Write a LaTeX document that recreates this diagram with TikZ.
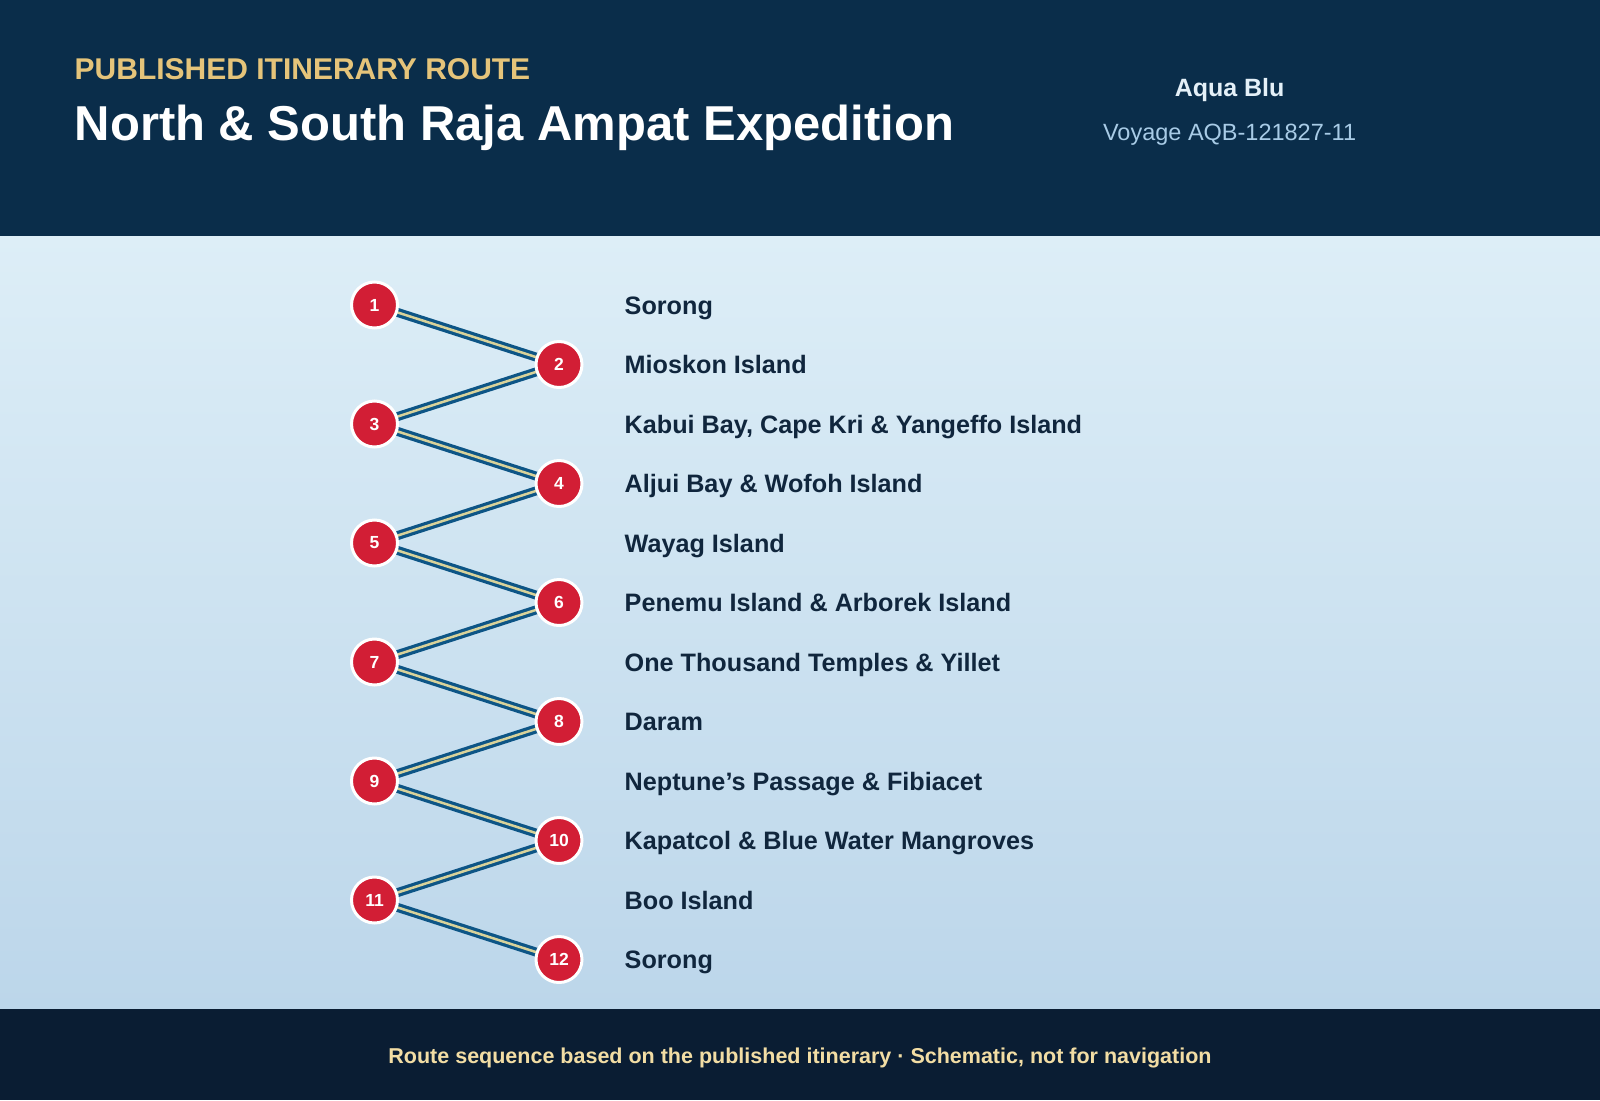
\documentclass[tikz,border=0pt]{standalone}
\usepackage{fontspec}
\setmainfont{Liberation Sans}
\usetikzlibrary{positioning}
\definecolor{hdrnavy}{HTML}{0A2D4A}
\definecolor{ftrnavy}{HTML}{0A1D33}
\definecolor{seatop}{HTML}{DDEEF7}
\definecolor{seabottom}{HTML}{BCD6EA}
\definecolor{kickergold}{HTML}{E5C47A}
\definecolor{shiplight}{HTML}{E4F0F8}
\definecolor{voyageblue}{HTML}{A8CBE6}
\definecolor{notesand}{HTML}{F2DDA4}
\definecolor{labelnavy}{HTML}{10263D}
\definecolor{stopred}{HTML}{D21E35}
\definecolor{routeblue}{HTML}{0D5586}
\definecolor{routesand}{HTML}{D8D29A}

\begin{document}
\begin{tikzpicture}[x=1pt, y=-1pt,
  stop/.style={circle, draw=white, line width=3pt, fill=stopred,
               minimum size=46pt, inner sep=0pt, text=white,
               font=\bfseries\fontsize{17.5}{20}\selectfont},
  place/.style={anchor=base west, inner sep=0pt, text=labelnavy,
                font=\bfseries\fontsize{25.2}{30}\selectfont},
  head/.style={inner sep=0pt},
  leg/.style={line width=9pt, routeblue},
  legcore/.style={line width=2.5pt, routesand}]
\useasboundingbox (0,0) rectangle (1600,1100);
% --- bands ---
\fill[hdrnavy] (0,0) rectangle (1600,236);
\shade[top color=seatop, bottom color=seabottom] (0,236) rectangle (1600,1009);
\fill[ftrnavy] (0,1009) rectangle (1600,1100);
% --- header ---
\node[head, anchor=base west, text=kickergold,
      font=\bfseries\fontsize{30}{34}\selectfont] (kicker) at (74.5,79)
  {PUBLISHED ITINERARY ROUTE};
\node[head, anchor=base west, text=white,
      font=\bfseries\fontsize{49}{56}\selectfont] (title) at (74.5,140)
  {North \& South Raja Ampat Expedition};
\node[head, anchor=base, text=shiplight,
      font=\bfseries\fontsize{25}{28}\selectfont] (ship) at (1229.6,96)
  {Aqua Blu};
\node[head, anchor=base, text=voyageblue,
      font=\fontsize{23.5}{28}\selectfont] (voyage) at (1229.6,140)
  {Voyage AQB-121827-11};
% --- route points ---
\foreach \i [evaluate=\i as \y using 305+(\i-1)*59.5,
             evaluate=\i as \x using {mod(\i,2)==1 ? 374.5 : 559}] in {1,...,12}
  \coordinate (p\i) at (\x,\y);
\foreach \i [evaluate=\i as \j using int(\i+1)] in {1,...,11} {
  \draw[leg] (p\i) -- (p\j);
  \draw[legcore] (p\i) -- (p\j);
}
\foreach \i/\name in {1/Sorong, 2/Mioskon Island,
                      3/{Kabui Bay, Cape Kri \& Yangeffo Island},
                      4/Aljui Bay \& Wofoh Island, 5/Wayag Island,
                      6/Penemu Island \& Arborek Island,
                      7/One Thousand Temples \& Yillet, 8/Daram,
                      9/Neptune’s Passage \& Fibiacet,
                      10/Kapatcol \& Blue Water Mangroves,
                      11/Boo Island, 12/Sorong} {
  \node[stop] (s\i) at (p\i) {\i};
  \node[place] (l\i) at (624.5, 314+\i*59.5-59.5) {\name};
}
% --- footer ---
\node[head, anchor=base, text=notesand,
      font=\bfseries\fontsize{21.5}{26}\selectfont] (note) at (800,1063)
  {Route sequence based on the published itinerary · Schematic, not for navigation};
\end{tikzpicture}
\end{document}
